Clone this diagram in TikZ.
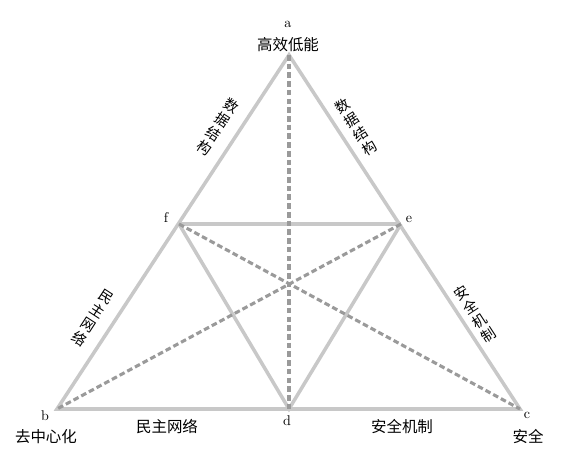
\documentclass[tikz,border=0pt]{standalone}
\usepackage{fontspec}
\newfontfamily\cjk{Noto Sans CJK SC}
\tikzset{
  side/.style={line width=2.5pt, draw=lightline},
  diag/.style={line width=2.2pt, draw=darkline, dash pattern=on 4pt off 2.2pt},
  tag/.style={font=\cjk\fontsize{11}{12}\selectfont, inner sep=0pt},
  glyph/.style={font=\cjk\fontsize{10.2}{11}\selectfont, inner sep=0pt},
  letter/.style={font=\fontsize{10}{12}\selectfont, inner sep=0pt}
}
\definecolor{lightline}{HTML}{C8C8C8}
\definecolor{darkline}{HTML}{9A9A9A}
\begin{document}
\begin{tikzpicture}[x=0.025cm,y=-0.025cm]
 	\useasboundingbox (0,0) rectangle (566,458);
 	\coordinate (a) at (289,55);
 	\coordinate (b) at (57,409);
 	\coordinate (c) at (520,409);
 	\coordinate (d) at (289,409);
 	\coordinate (f) at (179,224);
 	\coordinate (e) at (401,224);
 	
 	\draw [side] (a) -- (b) -- (c) -- cycle;
 	\draw [side] (f) -- (e);
 	\draw [side] (f) -- (d) -- (e);
 	
 	\draw [diag] (a) -- (d);
 	\draw [diag] (f) -- (c);
 	\draw [diag] (e) -- (b);
 	
 	\node [letter] (la) at (288,24) {a};
 	\node [tag] (ta) at (288,45) {高效低能};
 	\node [letter] (lf) at (166,218) {f};
 	\node [letter] (le) at (409,219) {e};
 	\node [letter] (lb) at (45,416) {b};
 	\node [tag] (tb) at (46,437) {去中心化};
 	\node [letter] (ld) at (287,421) {d};
 	\node [letter] (lc) at (527,415) {c};
 	\node [tag] (tc) at (528,437) {安全};
 	
 	\node [tag] (bd) at (167,427) {民主网络};
 	\node [tag] (dc) at (402,427) {安全机制};
 	
 	% labels along the slanted sides, one glyph at a time
 	\foreach \ch [count=\i] in {数,据,结,构}
 	  \node [glyph, rotate=-33] (ab\i) at (218-9*\i+22.5,127+13.8*\i-34.5) {\ch};
 	\foreach \ch [count=\i] in {数,据,结,构}
 	  \node [glyph, rotate=33] (ac\i) at (356+9*\i-22.5,127+13.8*\i-34.5) {\ch};
 	\foreach \ch [count=\i] in {民,主,网,络}
 	  \node [glyph, rotate=-33] (fb\i) at (93-9*\i+22.5,318+13.8*\i-34.5) {\ch};
 	\foreach \ch [count=\i] in {安,全,机,制}
 	  \node [glyph, rotate=33] (ec\i) at (475+9*\i-22.5,314+13.8*\i-34.5) {\ch};
\end{tikzpicture}
\end{document}
